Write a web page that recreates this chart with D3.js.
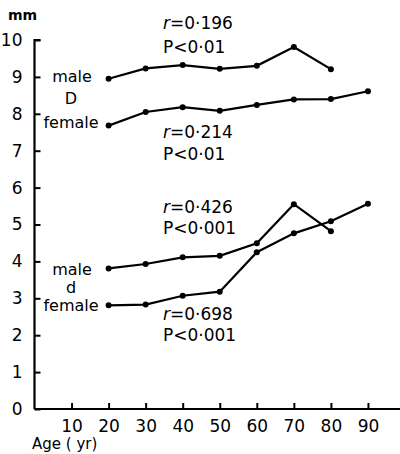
<!DOCTYPE html>
<html><head><meta charset="utf-8">
<script src="https://cdn.jsdelivr.net/npm/d3@7"></script>
<style>body{margin:0;background:#fff}svg{display:block}text{font-family:"DejaVu Sans",sans-serif;fill:#000}</style>
</head><body><div id="c"></div>
<script>
const ages = [20,30,40,50,60,70,80,90];
const maleD = [8.95,9.23,9.32,9.22,9.30,9.81,9.21];
const femaleD = [7.68,8.05,8.18,8.08,8.24,8.39,8.40,8.61];
const maleSmallD = [3.81,3.93,4.11,4.15,4.49,5.55,4.82];
const femaleSmallD = [2.81,2.83,3.07,3.18,4.25,4.76,5.09,5.56];
const yTicks = [0,1,2,3,4,5,6,7,8,9,10];
const xTicks = [10,20,30,40,50,60,70,80,90];
const notes = [
  {r:"0·196", p:"0·01", rv:10.30, pv:9.65},
  {r:"0·214", p:"0·01", rv:7.34, pv:6.75},
  {r:"0·426", p:"0·001", rv:5.30, pv:4.75},
  {r:"0·698", p:"0·001", rv:2.40, pv:1.84}
];

const W=400,H=454;
const svg=d3.select("#c").append("svg").attr("width",W).attr("height",H);
const x=d3.scaleLinear().domain([0,100]).range([34.5,405]);
const y=d3.scaleLinear().domain([0,10]).range([409,40]);

const ya=svg.append("g").attr("transform",`translate(${x(0)},0)`)
  .call(d3.axisLeft(y).tickValues(yTicks).tickSize(-6).tickPadding(12).tickFormat(d3.format("d")));
const xa=svg.append("g").attr("transform",`translate(0,${y(0)})`)
  .call(d3.axisBottom(x).tickValues(xTicks).tickSize(-6).tickPadding(8).tickFormat(d3.format("d")));
[ya,xa].forEach(g=>{
  g.select(".domain").attr("stroke","#000").attr("stroke-width",2.2);
  g.selectAll(".tick line").attr("stroke","#000").attr("stroke-width",2);
  g.selectAll(".tick text").attr("font-size",17).attr("fill","#000").attr("font-family","DejaVu Sans");
});
ya.select(".domain").attr("d",`M6,${y(10)}H0V${y(0)}`);
xa.select(".domain").attr("d",`M${x(0)},0H${x(100)}`);
xa.selectAll(".tick text").attr("dy","0.9em");

const line=d3.line().x((d,i)=>x(ages[i])).y(d=>y(d));
[maleD,femaleD,maleSmallD,femaleSmallD].forEach(s=>{
  svg.append("path").datum(s).attr("d",line).attr("fill","none").attr("stroke","#000").attr("stroke-width",2.2);
  svg.selectAll(null).data(s).join("circle").attr("cx",(d,i)=>x(ages[i])).attr("cy",d=>y(d)).attr("r",3).attr("fill","#000");
});

svg.append("text").attr("x",8).attr("y",20).attr("font-size",14).attr("font-weight","bold").text("mm");
const lab=(t,cx,yy)=>svg.append("text").attr("x",cx).attr("y",yy).attr("text-anchor","middle").attr("font-size",16).text(t);
lab("male",72,82); lab("D",71,104); lab("female",71,128);
lab("male",72,275); lab("d",71,293); lab("female",71,311);
svg.append("text").attr("x",32).attr("y",449).attr("font-size",15).text("Age ( yr)");

notes.forEach(n=>{
  const t=svg.append("text").attr("x",163).attr("y",y(n.rv)).attr("font-size",17);
  t.append("tspan").attr("font-style","italic").text("r");
  t.append("tspan").text("="+n.r);
  svg.append("text").attr("x",163).attr("y",y(n.pv)).attr("font-size",17).text("P<"+n.p);
});
</script></body></html>
